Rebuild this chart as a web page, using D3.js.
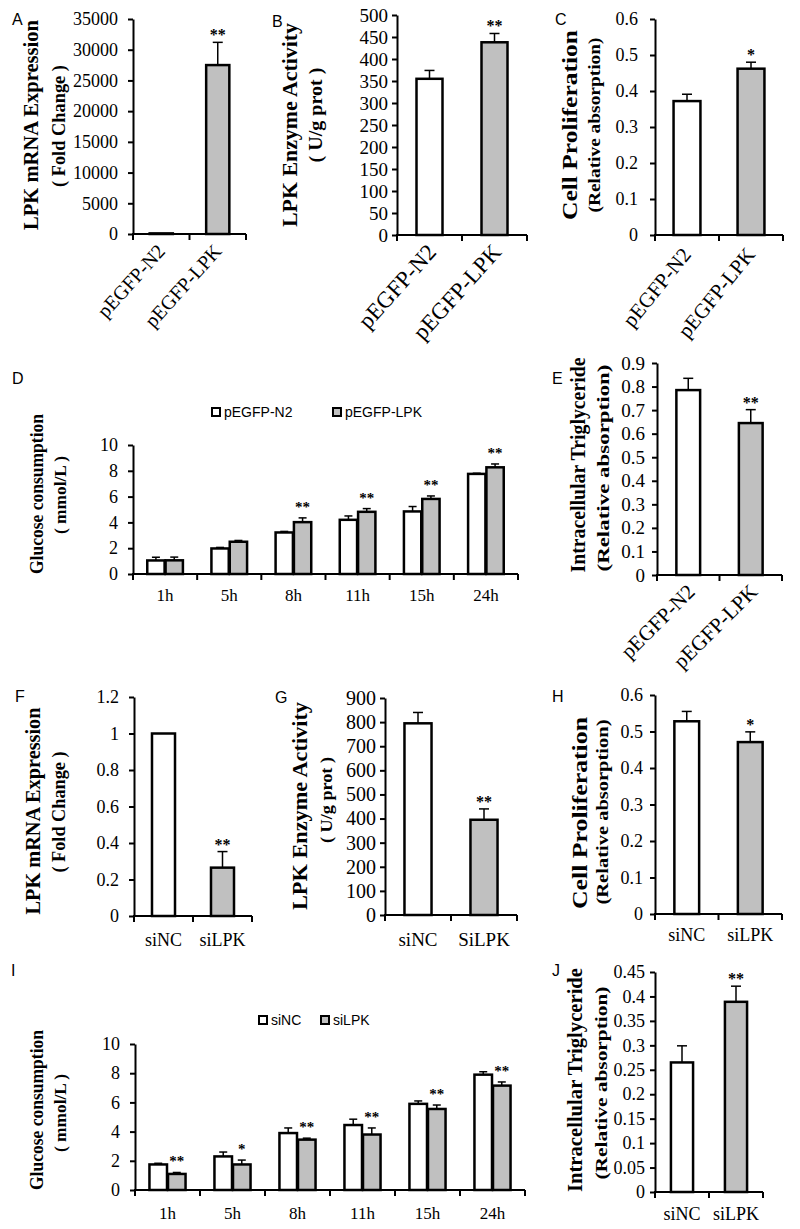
<!DOCTYPE html>
<html><head><meta charset="utf-8">
<script src="https://cdn.jsdelivr.net/npm/d3@7/dist/d3.min.js"></script>
<style>body{margin:0;background:#fff}svg{display:block}</style>
</head><body><svg id="c" width="800" height="1229"></svg>
<script>
// ---------------- DATA ----------------
const overexpGroups = ["pEGFP-N2", "pEGFP-LPK"];
const siGroupsF = ["siNC", "siLPK"];
const siGroupsG = ["siNC", "SiLPK"];
const timePoints = ["1h", "5h", "8h", "11h", "15h", "24h"];

const aValues = [100, 27500], aErrors = [0, 3700], aStars = ["", "**"];
const aTicks = [0, 5000, 10000, 15000, 20000, 25000, 30000, 35000];

const bValues = [355, 438], bErrors = [19, 20], bStars = ["", "**"];
const bTicks = [0, 50, 100, 150, 200, 250, 300, 350, 400, 450, 500];

const cValues = [0.372, 0.462], cErrors = [0.019, 0.018], cStars = ["", "*"];
const cTicks = [0, 0.1, 0.2, 0.3, 0.4, 0.5, 0.6];

const dSeriesNames = ["pEGFP-N2", "pEGFP-LPK"];
const dN2 = [1.05, 1.98, 3.22, 4.2, 4.85, 7.76];
const dN2Err = [0.25, 0.08, 0.08, 0.3, 0.38, 0.05];
const dLPK = [1.06, 2.5, 4.02, 4.82, 5.82, 8.27];
const dLPKErr = [0.25, 0.1, 0.33, 0.25, 0.23, 0.26];
const dStars = ["", "", "**", "**", "**", "**"];
const dTicks = [0, 2, 4, 6, 8, 10];

const eValues = [0.785, 0.645], eErrors = [0.05, 0.057], eStars = ["", "**"];
const eTicks = [0, 0.1, 0.2, 0.3, 0.4, 0.5, 0.6, 0.7, 0.8, 0.9];

const fValues = [1.0, 0.265], fErrors = [0, 0.088], fStars = ["", "**"];
const fTicks = [0, 0.2, 0.4, 0.6, 0.8, 1, 1.2];

const gValues = [795, 395], gErrors = [45, 45], gStars = ["", "**"];
const gTicks = [0, 100, 200, 300, 400, 500, 600, 700, 800, 900];

const hValues = [0.528, 0.471], hErrors = [0.027, 0.028], hStars = ["", "*"];
const hTicks = [0, 0.1, 0.2, 0.3, 0.4, 0.5, 0.6];

const iSeriesNames = ["siNC", "siLPK"];
const iNC = [1.75, 2.3, 3.9, 4.45, 5.9, 7.9];
const iNCErr = [0.08, 0.3, 0.35, 0.4, 0.2, 0.2];
const iLPK = [1.1, 1.75, 3.45, 3.8, 5.55, 7.15];
const iLPKErr = [0.1, 0.3, 0.1, 0.45, 0.27, 0.25];
const iStars = ["**", "*", "**", "**", "**", "**"];
const iTicks = [0, 2, 4, 6, 8, 10];

const jValues = [0.265, 0.389], jErrors = [0.034, 0.032], jStars = ["", "**"];
const jTicks = [0, 0.05, 0.1, 0.15, 0.2, 0.25, 0.3, 0.35, 0.4, 0.45];

// ---------------- DRAWING ----------------
const SERIF = "'Liberation Serif','Times New Roman',serif";
const SANS = "'Liberation Sans',Arial,sans-serif";
const GRAY = "#c0c0c0";
const svg = d3.select("#c");
const fmt = d => String(+(+d).toFixed(2));

function panelLabel(t, x, y) {
  svg.append("text").attr("x", x).attr("y", y).attr("font-family", SANS)
    .attr("font-size", 16).text(t);
}

function titles(list) {
  list.forEach(t => {
    svg.append("text")
      .attr("transform", `translate(${t.x},${t.cy}) rotate(-90)`)
      .attr("text-anchor", "middle").attr("font-family", SERIF)
      .attr("font-weight", "bold").attr("font-size", t.size)
      .attr("textLength", t.len).attr("lengthAdjust", "spacingAndGlyphs")
      .text(t.text);
  });
}

function axes(g, c, x, y) {
  const ya = d3.axisLeft(y).tickValues(c.ticks).tickSize(5).tickSizeOuter(0)
    .tickPadding(c.pad).tickFormat(fmt);
  const ag = g.append("g").attr("transform", `translate(${c.x0},0)`).call(ya)
    .attr("font-family", SERIF);
  ag.select(".domain").attr("stroke-width", 2);
  ag.selectAll(".tick line").attr("stroke-width", 2);
  ag.selectAll(".tick text").attr("font-family", SERIF).attr("font-size", c.tickFont).attr("fill", "#000");
  const bounds = x.domain().map(d => x(d)).concat([x.range()[1]]);
  g.append("line").attr("x1", c.x0 - 1).attr("x2", c.x1).attr("y1", c.yBot).attr("y2", c.yBot)
    .attr("stroke", "#000").attr("stroke-width", 2);
  g.selectAll("line.xt").data(bounds).join("line").attr("class", "xt")
    .attr("x1", d => d).attr("x2", d => d).attr("y1", c.yBot).attr("y2", c.yBot + 6)
    .attr("stroke", "#000").attr("stroke-width", 2);
}

function barPanel(c) {
  const g = svg.append("g");
  const y = d3.scaleLinear().domain([0, c.max]).range([c.yBot, c.yTop]);
  const x = d3.scaleBand().domain(c.cats).range([c.x0, c.x1]);
  const bw = x.bandwidth() * c.barFrac;
  const cx = d => x(d) + x.bandwidth() / 2;
  const rows = c.cats.map((k, i) => ({ k, v: c.values[i], e: c.errors[i], s: c.stars[i], fill: i === 0 ? "#fff" : GRAY }));
  g.selectAll("line.ev").data(rows.filter(r => r.e > 0)).join("line")
    .attr("x1", r => cx(r.k)).attr("x2", r => cx(r.k)).attr("y1", r => y(r.v)).attr("y2", r => y(r.v + r.e))
    .attr("stroke", "#000").attr("stroke-width", 1.5);
  g.selectAll("line.ec").data(rows.filter(r => r.e > 0)).join("line")
    .attr("x1", r => cx(r.k) - 5).attr("x2", r => cx(r.k) + 5).attr("y1", r => y(r.v + r.e)).attr("y2", r => y(r.v + r.e))
    .attr("stroke", "#000").attr("stroke-width", 1.5);
  g.selectAll("rect").data(rows).join("rect")
    .attr("x", r => cx(r.k) - bw / 2).attr("width", bw)
    .attr("y", r => y(r.v)).attr("height", r => c.yBot - y(r.v))
    .attr("fill", r => r.fill).attr("stroke", "#000").attr("stroke-width", 2.5);
  g.selectAll("text.st").data(rows).join("text").attr("class", "st")
    .attr("x", r => cx(r.k)).attr("y", r => y(r.v + r.e) - 2)
    .attr("text-anchor", "middle").attr("font-family", SERIF).attr("font-weight", "bold")
    .attr("font-size", 16).text(r => r.s);
  axes(g, c, x, y);
  if (c.rotate) {
    g.selectAll("text.xl").data(c.cats).join("text").attr("class", "xl")
      .attr("transform", d => `translate(${cx(d) + c.lx},${c.yBot + c.ly}) rotate(${-c.rotate})`)
      .attr("text-anchor", "end").attr("font-family", SERIF).attr("font-size", c.xFont).text(d => d);
  } else {
    g.selectAll("text.xl").data(c.cats).join("text").attr("class", "xl")
      .attr("x", d => cx(d)).attr("y", c.xLabelY)
      .attr("text-anchor", "middle").attr("font-family", SERIF).attr("font-size", c.xFont).text(d => d);
  }
  titles(c.titles);
  panelLabel(c.label, c.labelX, c.labelY);
}

function groupedPanel(c) {
  const g = svg.append("g");
  const y = d3.scaleLinear().domain([0, c.max]).range([c.yBot, c.yTop]);
  const x = d3.scaleBand().domain(c.cats).range([c.x0, c.x1]);
  const bw = x.bandwidth() * c.barFrac;
  const cx = d => x(d) + x.bandwidth() / 2;
  const rows = [];
  c.cats.forEach((k, i) => {
    rows.push({ k, off: -bw / 2 - 0.5, v: c.s1[i], e: c.s1e[i], fill: "#fff" });
    rows.push({ k, off: bw / 2 + 0.5, v: c.s2[i], e: c.s2e[i], fill: GRAY, star: c.stars[i] });
  });
  g.selectAll("line.ev").data(rows).join("line")
    .attr("x1", r => cx(r.k) + r.off).attr("x2", r => cx(r.k) + r.off).attr("y1", r => y(r.v)).attr("y2", r => y(r.v + r.e))
    .attr("stroke", "#000").attr("stroke-width", 1.5);
  g.selectAll("line.ec").data(rows).join("line")
    .attr("x1", r => cx(r.k) + r.off - 4).attr("x2", r => cx(r.k) + r.off + 4).attr("y1", r => y(r.v + r.e)).attr("y2", r => y(r.v + r.e))
    .attr("stroke", "#000").attr("stroke-width", 1.5);
  g.selectAll("rect").data(rows).join("rect")
    .attr("x", r => cx(r.k) + r.off - bw / 2).attr("width", bw)
    .attr("y", r => y(r.v)).attr("height", r => c.yBot - y(r.v))
    .attr("fill", r => r.fill).attr("stroke", "#000").attr("stroke-width", 2.5);
  g.selectAll("text.st").data(rows.filter(r => r.star)).join("text").attr("class", "st")
    .attr("x", r => cx(r.k) + r.off).attr("y", r => y(r.v + r.e) - 6)
    .attr("text-anchor", "middle").attr("font-family", SERIF).attr("font-weight", "bold")
    .attr("font-size", 15).text(r => r.star);
  axes(g, c, x, y);
  g.selectAll("text.xl").data(c.cats).join("text").attr("class", "xl")
    .attr("x", d => cx(d)).attr("y", c.xLabelY)
    .attr("text-anchor", "middle").attr("font-family", SERIF).attr("font-size", c.xFont).text(d => d);
  const lg = g.append("g");
  c.names.forEach((n, i) => {
    lg.append("rect").attr("x", c.legX[i]).attr("y", c.legY - 9).attr("width", 8).attr("height", 8)
      .attr("fill", i === 0 ? "#fff" : GRAY).attr("stroke", "#000").attr("stroke-width", 2);
    lg.append("text").attr("x", c.legX[i] + 12).attr("y", c.legY).attr("font-family", SANS)
      .attr("font-size", 14).text(n);
  });
  titles(c.titles);
  panelLabel(c.label, c.labelX, c.labelY);
}

barPanel({ label: "A", labelX: 12, labelY: 25, cats: overexpGroups, values: aValues, errors: aErrors, stars: aStars,
  x0: 133, x1: 246, yTop: 19, yBot: 234, max: 35000, ticks: aTicks, pad: 10, tickFont: 18, barFrac: 0.41,
  rotate: 48, lx: 5, ly: 18, xFont: 20,
  titles: [{ text: "LPK  mRNA  Expression", x: 38, cy: 125, len: 210, size: 20 },
           { text: "( Fold Change )", x: 65, cy: 126, len: 122, size: 18 }] });

barPanel({ label: "B", labelX: 272, labelY: 27, cats: overexpGroups, values: bValues, errors: bErrors, stars: bStars,
  x0: 397, x1: 527, yTop: 15, yBot: 235, max: 500, ticks: bTicks, pad: 4, tickFont: 19, barFrac: 0.4,
  rotate: 48, lx: 8, ly: 18, xFont: 23,
  titles: [{ text: "LPK  Enzyme  Activity", x: 297, cy: 125, len: 204, size: 20 },
           { text: "( U/g prot )", x: 322, cy: 115, len: 95, size: 18 }] });

barPanel({ label: "C", labelX: 555, labelY: 25, cats: overexpGroups, values: cValues, errors: cErrors, stars: cStars,
  x0: 655, x1: 783, yTop: 19, yBot: 235, max: 0.6, ticks: cTicks, pad: 12, tickFont: 18, barFrac: 0.42,
  rotate: 51, lx: 5, ly: 20, xFont: 21,
  titles: [{ text: "Cell  Proliferation", x: 577, cy: 125, len: 190, size: 20 },
           { text: "(Relative absorption)", x: 600, cy: 125, len: 175, size: 16 }] });

groupedPanel({ label: "D", labelX: 12, labelY: 384, cats: timePoints, names: dSeriesNames,
  s1: dN2, s1e: dN2Err, s2: dLPK, s2e: dLPKErr, stars: dStars,
  x0: 133, x1: 518, yTop: 445, yBot: 574, max: 10, ticks: dTicks, pad: 10, tickFont: 18, barFrac: 0.27,
  xLabelY: 601, xFont: 17, legX: [212, 333], legY: 417,
  titles: [{ text: "Glucose consumption", x: 43, cy: 494, len: 160, size: 18 },
           { text: "( mmol/L )", x: 66, cy: 495, len: 78, size: 16 }] });

barPanel({ label: "E", labelX: 552, labelY: 384, cats: overexpGroups, values: eValues, errors: eErrors, stars: eStars,
  x0: 657, x1: 782, yTop: 363, yBot: 575, max: 0.9, ticks: eTicks, pad: 7, tickFont: 19, barFrac: 0.38,
  rotate: 45, lx: 8, ly: 18, xFont: 21,
  titles: [{ text: "Intracellular  Triglyceride", x: 585, cy: 465, len: 215, size: 20 },
           { text: "(Relative absorption)", x: 609, cy: 468, len: 207, size: 17 }] });

barPanel({ label: "F", labelX: 15, labelY: 702, cats: siGroupsF, values: fValues, errors: fErrors, stars: fStars,
  x0: 134, x1: 252, yTop: 697, yBot: 916, max: 1.2, ticks: fTicks, pad: 10, tickFont: 18, barFrac: 0.39,
  xLabelY: 946, xFont: 18,
  titles: [{ text: "LPK  mRNA  Expression", x: 40, cy: 811, len: 207, size: 20 },
           { text: "( Fold Change )", x: 65, cy: 812, len: 121, size: 18 }] });

barPanel({ label: "G", labelX: 275, labelY: 703, cats: siGroupsG, values: gValues, errors: gErrors, stars: gStars,
  x0: 385, x1: 517, yTop: 698, yBot: 915, max: 900, ticks: gTicks, pad: 4, tickFont: 20, barFrac: 0.41,
  xLabelY: 946, xFont: 19,
  titles: [{ text: "LPK  Enzyme  Activity", x: 307, cy: 806, len: 208, size: 20 },
           { text: "( U/g prot )", x: 332, cy: 800, len: 86, size: 17 }] });

barPanel({ label: "H", labelX: 552, labelY: 702, cats: siGroupsF, values: hValues, errors: hErrors, stars: hStars,
  x0: 655, x1: 782, yTop: 695, yBot: 914, max: 0.6, ticks: hTicks, pad: 7, tickFont: 18, barFrac: 0.39,
  xLabelY: 941, xFont: 18,
  titles: [{ text: "Cell  Proliferation", x: 587, cy: 813, len: 192, size: 20 },
           { text: "(Relative absorption)", x: 608, cy: 812, len: 185, size: 16 }] });

groupedPanel({ label: "I", labelX: 11, labelY: 976, cats: timePoints, names: iSeriesNames,
  s1: iNC, s1e: iNCErr, s2: iLPK, s2e: iLPKErr, stars: iStars,
  x0: 135, x1: 525, yTop: 1044, yBot: 1190, max: 10, ticks: iTicks, pad: 10, tickFont: 18, barFrac: 0.27,
  xLabelY: 1219, xFont: 17, legX: [259, 321], legY: 1025,
  titles: [{ text: "Glucose consumption", x: 43, cy: 1110, len: 160, size: 18 },
           { text: "( mmol/L )", x: 66, cy: 1113, len: 78, size: 16 }] });

barPanel({ label: "J", labelX: 552, labelY: 976, cats: siGroupsF, values: jValues, errors: jErrors, stars: jStars,
  x0: 655, x1: 763, yTop: 972, yBot: 1192, max: 0.45, ticks: jTicks, pad: 5, tickFont: 18, barFrac: 0.41,
  xLabelY: 1220, xFont: 18,
  titles: [{ text: "Intracellular  Triglyceride", x: 582, cy: 1080, len: 224, size: 20 },
           { text: "(Relative absorption)", x: 607, cy: 1083, len: 193, size: 17 }] });
</script></body></html>
